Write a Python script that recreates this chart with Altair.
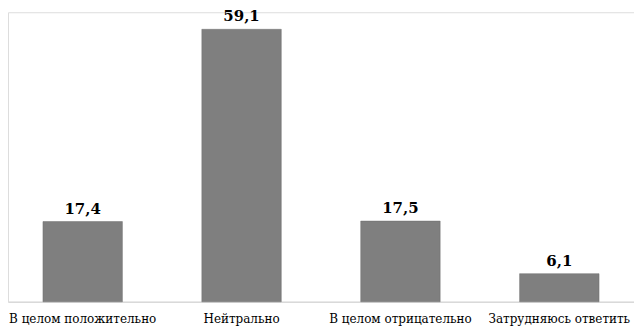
import altair as alt
import pandas as pd

categories = ["В целом положительно", "Нейтрально", "В целом отрицательно", "Затрудняюсь ответить"]
values = [17.4, 59.1, 17.5, 6.1]
labels = ["17,4", "59,1", "17,5", "6,1"]

df = pd.DataFrame({"cat": categories, "val": values, "lab": labels})

FONT = "DejaVu Serif"

x = alt.X("cat:N", sort=categories,
          scale=alt.Scale(paddingInner=0.5, paddingOuter=0.22),
          axis=alt.Axis(title=None, labelAngle=0, domainColor="#d9d9d9", domainWidth=1.5,
                        ticks=False, labelFont=FONT, labelFontSize=12,
                        labelColor="#000000", labelPadding=12))
y = alt.Y("val:Q", scale=alt.Scale(domain=[0, 62.8], nice=False, zero=True), axis=None)

bars = alt.Chart(df).mark_bar(color="#7f7f7f", stroke="#707070", strokeWidth=0.5).encode(x=x, y=y)
text = alt.Chart(df).mark_text(dy=-8, font=FONT, fontSize=15, fontWeight="bold",
                               color="#000000", baseline="alphabetic").encode(x=x, y=y, text="lab:N")

chart = (bars + text).properties(
    width=627, height=290,
    autosize=alt.AutoSizeParams(type="none"),
    padding={"left": 0, "top": 4, "right": 0, "bottom": 26},
).configure_view(stroke=None).configure(background="#ffffff")

chart.save("out.html", embed_options={"renderer": "svg", "actions": False})
